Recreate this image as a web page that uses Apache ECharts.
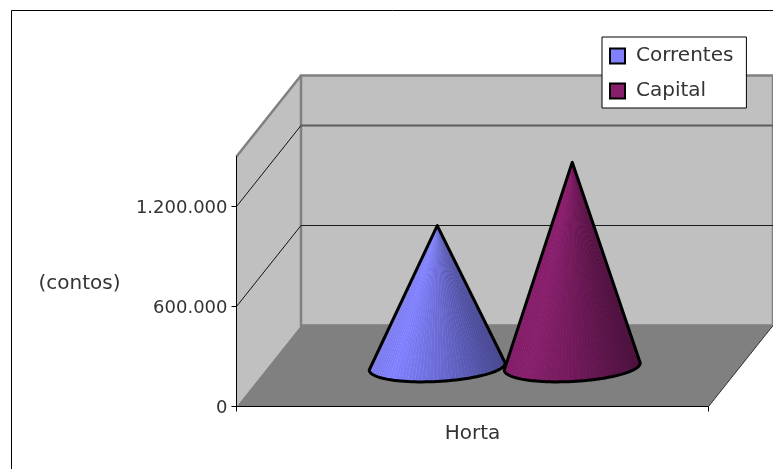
<!DOCTYPE html>
<html>
<head>
<meta charset="utf-8">
<style>html,body{margin:0;padding:0;background:#fff}#chart{width:773px;height:469px}</style>
<script src="https://cdn.jsdelivr.net/npm/echarts@6/dist/echarts.min.js"></script>
</head>
<body>
<div id="chart"></div>
<script>
// Investment by type for the Horta municipality, in contos.
const categories = ['Horta'];
const seriesNames = ['Correntes', 'Capital'];
const correntes = [845000];
const capital = [1225000];
const gridValues = [0, 600000, 1200000];

const FONT = '"DejaVu Sans", sans-serif';
const TEXT = '#333333';
const palette = { Correntes: [128, 128, 255], Capital: [134, 32, 107] };

// Oblique projection of the plot box: how far the back wall is shifted.
const DEPTH_X = 64.5, DEPTH_Y = -81;
const CONE_SPREAD = 67.5, CONE_RADIUS = 68, CONE_MINOR = 15, CONE_TILT = 3.5;
const FACETS = 56;

const renderBox = (params, api) => {
  const cs = params.coordSys;
  const x0 = cs.x, x1 = cs.x + cs.width;
  const yBase = api.coord([categories[0], 0])[1], yTop = cs.y;
  const bx0 = x0 + DEPTH_X, bx1 = x1 + DEPTH_X;
  const byBase = yBase + DEPTH_Y, byTop = yTop + DEPTH_Y;
  const children = [
    { type: 'polygon', shape: { points: [[x0, yBase], [x0, yTop], [bx0, byTop], [bx0, byBase]] },
      style: { fill: '#c0c0c0', stroke: null } },
    { type: 'polygon', shape: { points: [[bx0, byTop], [bx1, byTop], [bx1, byBase], [bx0, byBase]] },
      style: { fill: '#c0c0c0', stroke: '#808080', lineWidth: 2.5 } },
    { type: 'polyline', shape: { points: [[x0, yTop], [bx0, byTop]] },
      style: { fill: null, stroke: '#808080', lineWidth: 2.5 } },
    { type: 'polygon', shape: { points: [[x0, yBase], [x1, yBase], [bx1, byBase], [bx0, byBase]] },
      style: { fill: '#808080', stroke: null } },
    { type: 'polyline', shape: { points: [[x1, yBase], [bx1, byBase]] },
      style: { fill: null, stroke: '#303030', lineWidth: 1 } }
  ];
  gridValues.slice(1).forEach((v, i) => {
    const y = api.coord([categories[0], v])[1];
    children.push({ type: 'polyline', shape: { points: [[x0, y], [bx0, y + DEPTH_Y]] },
      style: { fill: null, stroke: '#111', lineWidth: 1 } });
    children.push({ type: 'polyline', shape: { points: [[bx0, y + DEPTH_Y], [bx1, y + DEPTH_Y]] },
      style: { fill: null, stroke: i === 0 ? '#1c1c1c' : '#5c5c5c', lineWidth: i === 0 ? 1 : 2 } });
  });
  return { type: 'group', children };
};

const tone = (rgb, f) => 'rgb(' + rgb.map((c) => Math.min(255, Math.round(c * f))).join(',') + ')';

// Lit from the left: brightest a little off the left edge, fading to the right.
const lightAt = (u) => (u < 0.15 ? 0.92 + 0.08 * (u / 0.15) : 1 - 0.46 * Math.pow((u - 0.15) / 0.85, 1.1));

const renderCone = (name, side) => (params, api) => {
  const value = api.value(1);
  const base = api.coord([categories[0], 0]);
  const top = api.coord([categories[0], value]);
  const rgb = palette[name];
  const cx = base[0] + DEPTH_X / 2 + side * CONE_SPREAD;
  const cy = base[1] + DEPTH_Y / 2 + 0.5;
  const apex = [cx, top[1] + DEPTH_Y / 2 + 0.5];
  const rim = (t) => [cx + CONE_RADIUS * Math.cos(t),
    cy - CONE_TILT * Math.cos(t) + CONE_MINOR * Math.sin(t)];
  const arc = [];
  for (let i = 0; i <= FACETS; i++) {
    arc.push(rim(Math.PI - (Math.PI * i) / FACETS));
  }
  // A lighter underlay is what shows through the seams between facets.
  const stops = [0, 0.15, 0.5, 1].map((u) => ({ offset: u, color: tone(rgb, lightAt(u) * 1.45) }));
  const children = [{
    type: 'polygon', shape: { points: [apex].concat(arc) },
    style: { fill: new echarts.graphic.LinearGradient(0, 0, 1, 0, stops), stroke: null }
  }];
  for (let i = 0; i < FACETS; i++) {
    const u = (arc[i][0] - arc[0][0]) / (2 * CONE_RADIUS);
    children.push({ type: 'polygon', shape: { points: [apex, arc[i], arc[i + 1]] },
      style: { fill: tone(rgb, lightAt(u)), stroke: null } });
  }
  children.push({ type: 'polygon', shape: { points: [apex].concat(arc) },
    style: { fill: null, stroke: '#000', lineWidth: 3, lineJoin: 'round' } });
  return { type: 'group', children };
};

const chart = echarts.init(document.getElementById('chart'), null, { renderer: 'canvas' });
chart.setOption({
  animation: false,
  backgroundColor: '#fff',
  textStyle: { fontFamily: FONT },
  grid: { left: 236.5, top: 156.5, width: 472, height: 250, containLabel: false },
  legend: {
    left: 602, top: 37, orient: 'vertical',
    padding: [9, 13, 7, 7], itemGap: 15, itemWidth: 15, itemHeight: 15,
    backgroundColor: '#fff', borderColor: '#000', borderWidth: 1, borderRadius: 0,
    textStyle: { fontFamily: FONT, fontSize: 20, color: TEXT, padding: [2, 0, 0, 6] },
    data: seriesNames.map((n) => ({
      name: n, icon: 'rect',
      itemStyle: { color: 'rgb(' + palette[n].join(',') + ')', borderColor: '#000', borderWidth: 2 }
    }))
  },
  xAxis: {
    type: 'category', data: categories, z: 5,
    axisLine: { lineStyle: { color: '#000', width: 1 } },
    axisTick: { show: true, length: 5, lineStyle: { color: '#000' } },
    axisLabel: { fontFamily: FONT, fontSize: 20, color: TEXT, margin: 17 }
  },
  yAxis: {
    type: 'value', min: 0, max: 1500000, interval: 600000, z: 5,
    name: '(contos)', nameLocation: 'middle', nameRotate: 0, nameGap: 116,
    nameTextStyle: { fontFamily: FONT, fontSize: 20, color: TEXT, align: 'right', verticalAlign: 'top', lineHeight: 4 },
    axisLine: { show: true, lineStyle: { color: '#000', width: 1 } },
    axisTick: { show: true, length: 5, customValues: gridValues, lineStyle: { color: '#000' } },
    axisLabel: {
      fontFamily: FONT, fontSize: 18, color: TEXT, margin: 9, verticalAlign: 'top', lineHeight: 3,
      customValues: gridValues,
      formatter: (v) => String(v).replace(/\B(?=(\d{3})+$)/g, '.')
    },
    splitLine: { show: false }
  },
  series: [
    { type: 'custom', name: '_box', z: 1, silent: true, renderItem: renderBox,
      data: [[categories[0], 0]], encode: { x: 0, y: 1 } },
    { type: 'custom', name: seriesNames[0], z: 3, renderItem: renderCone(seriesNames[0], -1),
      itemStyle: { color: 'rgb(128,128,255)' },
      data: categories.map((c, i) => [c, correntes[i]]), encode: { x: 0, y: 1 } },
    { type: 'custom', name: seriesNames[1], z: 3, renderItem: renderCone(seriesNames[1], 1),
      itemStyle: { color: 'rgb(134,32,107)' },
      data: categories.map((c, i) => [c, capital[i]]), encode: { x: 0, y: 1 } }
  ],
  graphic: [
    { type: 'polyline', silent: true, z: 10,
      shape: { points: [[11.5, 469], [11.5, 10.5], [773, 10.5]] },
      style: { fill: null, stroke: '#000', lineWidth: 1 } }
  ]
});
</script>
</body>
</html>
